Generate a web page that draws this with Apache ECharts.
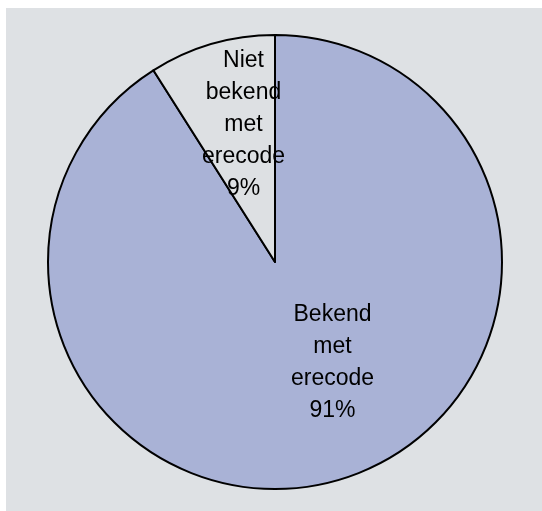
<!DOCTYPE html>
<html>
<head>
<meta charset="utf-8">
<script src="https://cdn.jsdelivr.net/npm/echarts@6/dist/echarts.min.js"></script>
<style>html,body{margin:0;padding:0;background:#fff;}#c{width:542px;height:511px;}</style>
</head>
<body>
<div id="c"></div>
<script>
const categories = ["Bekend\nmet\nerecode", "Niet\nbekend\nmet\nerecode"];
const values = [91, 9];
const colors = ["#a9b2d6", "#dde0e3"];
const labelOffsets = [[25, -11], [1, -25]];

const chart = echarts.init(document.getElementById('c'), null, {renderer: 'canvas'});
chart.setOption({
  backgroundColor: '#ffffff',
  animation: false,
  graphic: [{
    type: 'rect', z: -1, silent: true,
    shape: {x: 6, y: 8, width: 540, height: 510},
    style: {fill: '#dee1e4'}
  }],
  series: [{
    type: 'pie',
    center: [275, 262],
    radius: [0, 227],
    startAngle: 90,
    clockwise: true,
    avoidLabelOverlap: false,
    itemStyle: {borderColor: '#000', borderWidth: 2},
    label: {
      show: true, position: 'inside',
      formatter: p => p.name + '\n' + p.value + '%',
      fontFamily: 'Liberation Sans, Arial, sans-serif',
      fontSize: 23, lineHeight: 32, color: '#000'
    },
    labelLine: {show: false},
    emphasis: {disabled: true},
    data: categories.map((n, i) => ({
      name: n, value: values[i],
      itemStyle: {color: colors[i]},
      label: {offset: labelOffsets[i]}
    }))
  }]
});
</script>
</body>
</html>
